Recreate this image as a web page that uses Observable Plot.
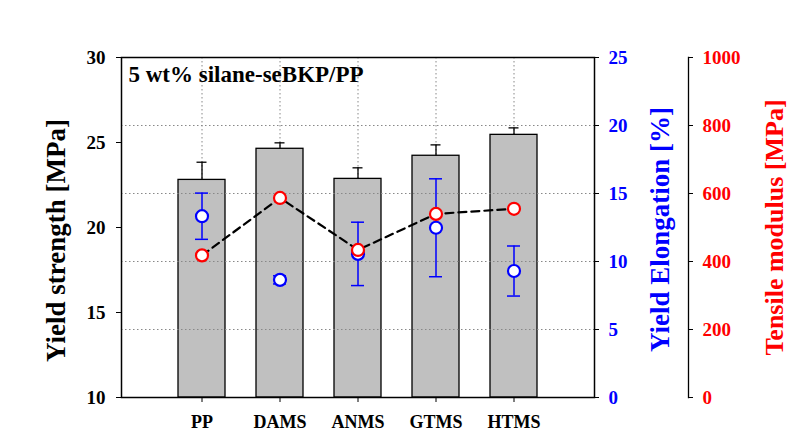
<!DOCTYPE html>
<html>
<head>
<meta charset="utf-8">
<script src="https://cdn.jsdelivr.net/npm/d3@7"></script>
<script src="https://cdn.jsdelivr.net/npm/@observablehq/plot@0.6"></script>
<style>
  body { margin: 0; background: white; }
</style>
</head>
<body>
<div id="chart"></div>
<script>
const categories = ["PP", "DAMS", "ANMS", "GTMS", "HTMS"];
const yieldStrength = [22.8, 24.63, 22.86, 24.22, 25.45];
const yieldStrengthErr = [1.04, 0.35, 0.65, 0.64, 0.41];
const elongation = [13.33, 8.65, 10.56, 12.48, 9.3];
const elongationErr = [1.7, 0.3, 2.33, 3.6, 1.84];
const modulus = [418, 587, 434, 540, 555];

const leftTicks = [10, 15, 20, 25, 30];
const elongTicks = [0, 5, 10, 15, 20, 25];
const modTicks = [0, 200, 400, 600, 800, 1000];
const gridElong = [5, 10, 15, 20];

// map secondary scales onto the primary y domain [10, 30]
const fromElong = v => 10 + v * 20 / 25;
const fromMod = v => 10 + v * 20 / 1000;

const rows = categories.map((c, i) => ({
  cat: c,
  ys: yieldStrength[i], yse: yieldStrengthErr[i],
  el: elongation[i], ele: elongationErr[i],
  mod: modulus[i]
}));

const serif = "'Liberation Serif', 'Times New Roman', serif";
const blue = "#0000ff";
const red = "#ff0000";

const chart = Plot.plot({
  width: 790,
  height: 446,
  marginLeft: 121,
  marginRight: 196,
  marginTop: 57,
  marginBottom: 49,
  style: { fontFamily: serif, fontWeight: "bold", background: "white", overflow: "visible" },
  x: { type: "band", domain: categories, paddingInner: 0.4, paddingOuter: 0.7, label: null },
  y: { domain: [10, 30], label: null },
  marks: [
    Plot.gridX({ stroke: "#888", strokeOpacity: 1, strokeDasharray: "1.5,2.5" }),
    Plot.barY(rows, { x: "cat", y1: 10, y2: "ys", fill: "#c0c0c0", stroke: "black", strokeWidth: 1.3 }),
    Plot.ruleX(rows, { x: "cat", y1: "ys", y2: d => d.ys + d.yse, stroke: "black", strokeWidth: 1.3 }),
    Plot.tickY(rows, { x: "cat", y: d => d.ys + d.yse, stroke: "black", strokeWidth: 1.3, insetLeft: 18.5, insetRight: 18.5 }),
    Plot.gridY({ ticks: gridElong.map(fromElong), stroke: "#888", strokeOpacity: 1, strokeDasharray: "1.5,2.5" }),
    Plot.frame({ stroke: "black", strokeWidth: 1.5 }),
    // blue error bars
    Plot.ruleX(rows, { x: "cat", y1: d => fromElong(d.el - d.ele), y2: d => fromElong(d.el + d.ele), stroke: blue, strokeWidth: 1.5 }),
    Plot.tickY(rows, { x: "cat", y: d => fromElong(d.el + d.ele), stroke: blue, strokeWidth: 1.5, insetLeft: 17, insetRight: 17 }),
    Plot.tickY(rows, { x: "cat", y: d => fromElong(d.el - d.ele), stroke: blue, strokeWidth: 1.5, insetLeft: 17, insetRight: 17 }),
    // dashed modulus line
    Plot.line(rows, { x: "cat", y: d => fromMod(d.mod), stroke: "black", strokeWidth: 2.2, strokeDasharray: "8,5" }),
    Plot.dot(rows, { x: "cat", y: d => fromElong(d.el), r: 6, stroke: blue, fill: "white", strokeWidth: 2.2 }),
    Plot.dot(rows, { x: "cat", y: d => fromMod(d.mod), r: 6, stroke: red, fill: "white", strokeWidth: 2.2 }),
    // axes
    Plot.axisX({ tickSize: 5, tickPadding: 13, fontSize: 18, fontFamily: serif, fontWeight: "bold", fill: "black", stroke: "black" }),
    Plot.axisY({ ticks: leftTicks, tickSize: 5, tickPadding: 11, fontSize: 19, fontFamily: serif, fontWeight: "bold", fill: "black", stroke: "black", label: null }),
    Plot.axisY({ anchor: "right", ticks: elongTicks.map(fromElong), tickFormat: d => String(Math.round((d - 10) * 25 / 20)),
      tickSize: 4, tickPadding: 10, fontSize: 19, fontFamily: serif, fontWeight: "bold", fill: blue, stroke: "black", label: null }),
    Plot.frame({ anchor: "right", dx: 94, stroke: "black", strokeWidth: 1.3 }),
    Plot.axisY({ anchor: "right", dx: 94, ticks: modTicks.map(fromMod), tickFormat: d => String(Math.round((d - 10) * 1000 / 20)),
      tickSize: 4, tickPadding: 10, fontSize: 19, fontFamily: serif, fontWeight: "bold", fill: red, stroke: "black", label: null }),
    // axis titles
    Plot.text(["Yield strength [MPa]"], { frameAnchor: "left", dx: -65, dy: 13, rotate: -90, textAnchor: "middle", fontSize: 27, fontFamily: serif, fontWeight: "bold", fill: "black" }),
    Plot.text(["Yield Elongation [%]"], { frameAnchor: "right", dx: 66, dy: 2, rotate: -90, textAnchor: "middle", fontSize: 27, fontFamily: serif, fontWeight: "bold", fill: blue }),
    Plot.text(["Tensile modulus [MPa]"], { frameAnchor: "right", dx: 180, dy: 0, rotate: -90, textAnchor: "middle", fontSize: 26, fontFamily: serif, fontWeight: "bold", fill: red }),
    // in-plot title
    Plot.text(["5 wt% silane-seBKP/PP"], { frameAnchor: "top-left", dx: 7, dy: 8, textAnchor: "start", lineAnchor: "top", fontSize: 23, fontFamily: serif, fontWeight: "bold", fill: "black" })
  ]
});

document.getElementById("chart").appendChild(chart);
</script>
</body>
</html>
